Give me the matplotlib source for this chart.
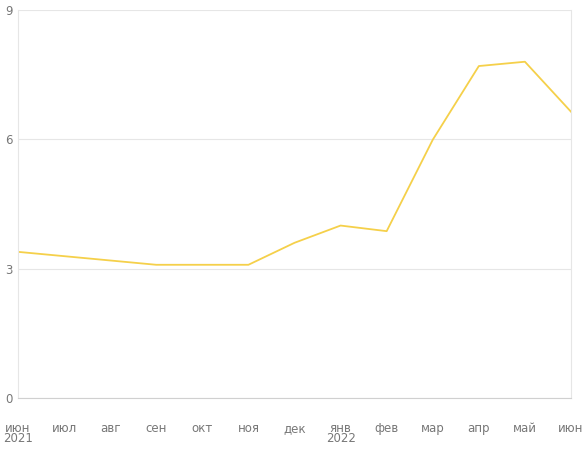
import matplotlib
matplotlib.use("Agg")
import matplotlib.pyplot as plt

months = ["июн", "июл", "авг", "сен", "окт", "ноя", "дек", "янв", "фев", "мар", "апр", "май", "июн"]
years = {0: "2021", 7: "2022"}
values = [3.39, 3.29, 3.19, 3.09, 3.09, 3.09, 3.6, 4.0, 3.87, 5.99, 7.7, 7.8, 6.64]
yticks = [0, 3, 6, 9]

fig = plt.figure(figsize=(5.86, 4.49), dpi=100)
ax = fig.add_axes([18/586, 1-398/449, (571-18)/586, (398-10)/449])
x = list(range(len(months)))
ax.plot(x, values, color="#f5d04a", lw=1.3)
ax.set_xlim(0, 12)
ax.set_ylim(0, 9)
ax.set_yticks(yticks)
ax.set_yticklabels([str(v) for v in yticks], color="#777777", fontsize=8.5)
ax.tick_params(axis="y", length=0, pad=4)
ax.set_xticks(x)
ax.set_xticklabels(months, color="#777777", fontsize=8.5)
ax.tick_params(axis="x", length=0, pad=17)
for i, yr in years.items():
    ax.text(i, -0.93, yr, ha="center", va="center", fontsize=8.5, color="#777777",
            transform=ax.transData)
ax.grid(axis="y", color="#e6e6e6", lw=0.8)
for s in ["left", "right", "top"]:
    ax.spines[s].set_color("#e6e6e6")
ax.spines["top"].set_visible(False)
ax.spines["bottom"].set_color("#d0d0d0")
fig.savefig("out.png", dpi=100)
